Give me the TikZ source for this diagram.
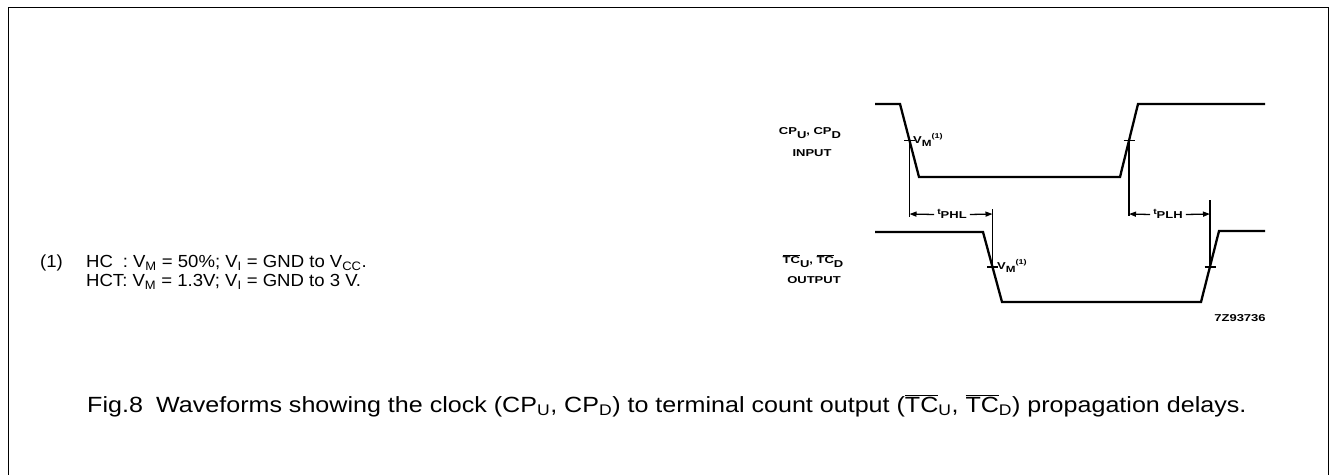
\documentclass[tikz,border=0pt]{standalone}
\usepackage{fontspec}
\setmainfont{Liberation Sans}
\newfontfamily\wf[FakeStretch=1.3]{Liberation Sans}
\newfontfamily\footfont[FakeStretch=1.06]{Liberation Sans}
\newfontfamily\capfont[FakeStretch=1.14]{Liberation Sans}
\usetikzlibrary{arrows.meta}
\newcommand{\ovl}[1]{$\overline{\hbox{#1}}$}
\newcommand{\dn}[1]{\raisebox{-3.5pt}{#1}}
\newcommand{\vmlabel}{V\raisebox{-3.5pt}{\fontsize{9}{9}\selectfont M}\raisebox{4.5pt}{\fontsize{7}{7}\selectfont (1)}}
\newcommand{\tlabel}[1]{{\fontsize{8}{8}\selectfont t}\raisebox{-4.5pt}{#1}}
\begin{document}
\begin{tikzpicture}[x=1pt,y=-1pt,
  wave/.style={line width=2.3pt, line join=miter},
  refl/.style={line width=1.3pt},
  tickm/.style={line width=1.8pt},
  dim/.style={line width=1.3pt,-{Triangle[length=7pt,width=5pt]}},
  lab/.style={font=\wf\bfseries\fontsize{10}{12}\selectfont, inner sep=0pt},
  foot/.style={font=\footfont\fontsize{17.5}{21}\selectfont, inner sep=0pt, anchor=base west},
  captext/.style={font=\capfont\fontsize{22}{26}\selectfont, inner sep=0pt, anchor=base west},
  ]
\useasboundingbox (0,0) rectangle (1330,474);
\draw[line width=1.6pt] (8.5,480) -- (8.5,7.5) -- (1328.5,7.5) -- (1328.5,480);

% waveforms
\draw[wave] (875,104) -- (900,104) -- (919,177) -- (1120,177) -- (1138,104) -- (1265,104);
\draw[wave] (875,232) -- (983,232) -- (1002,302) -- (1201,302) -- (1219,231) -- (1265,231);

% crossing points
\coordinate (ti1) at (909.5,140.5);
\coordinate (ti2) at (1129,140.5);
\coordinate (to1) at (992.5,267);
\coordinate (to2) at (1210,267);
\foreach \c in {ti1,ti2,to1,to2}
  \draw[tickm] ([xshift=-5.5pt]\c) -- ([xshift=5.5pt]\c);

% reference lines
\draw[refl] (ti1) -- (909.5,217);
\draw[refl] (ti2) -- (1129,216);
\draw[refl] (to1) -- (992.5,209);
\draw[refl] (to2) -- (1210,200);

% delay labels
\node[lab] (phl) at (952,214) {\tlabel{PHL}};
\node[lab] (plh) at (1168,214) {\tlabel{PLH}};
\draw[dim] (phl.west) ++(-3pt,-0.5pt) -- (ti1 |- phl.west);
\draw[dim] (phl.east) ++(3pt,-0.5pt) -- (to1 |- phl.east);
\draw[dim] (plh.west) ++(-3pt,-0.5pt) -- (ti2 |- plh.west);
\draw[dim] (plh.east) ++(3pt,-0.5pt) -- (to2 |- plh.east);

% VM labels
\node[lab, anchor=west] (vm1) at (913,140) {\vmlabel};
\node[lab, anchor=west] (vm2) at (997,266) {\vmlabel};

% signal names
\node[lab] (inA) at (810,133) {CP\dn{U}, CP\dn{D}};
\node[lab] (inB) at (812,153) {INPUT};
\node[lab] (outA) at (813,261) {\ovl{TC}\dn{U}, \ovl{TC}\dn{D}};
\node[lab] (outB) at (814,280) {OUTPUT};
\node[lab] (code) at (1240,318) {7Z93736};

% footnote
\node[foot] (fn0) at (40,267.5) {(1)};
\node[foot] (fn1) at (86,267.5) {HC\hspace{0.56em}: V\textsubscript{M} = 50\%; V\textsubscript{I} = GND to V\textsubscript{CC}.};
\node[foot] (fn2) at (86,286.5) {HCT: V\textsubscript{M} = 1.3V; V\textsubscript{I} = GND to 3 V.};

% caption
\node[captext] (caption) at (87,412) {Fig.8\hspace{0.6em}Waveforms showing the clock (CP\textsubscript{U}, CP\textsubscript{D}) to terminal count output (\ovl{TC}\textsubscript{U}, \ovl{TC}\textsubscript{D}) propagation delays.};
\end{tikzpicture}
\end{document}
